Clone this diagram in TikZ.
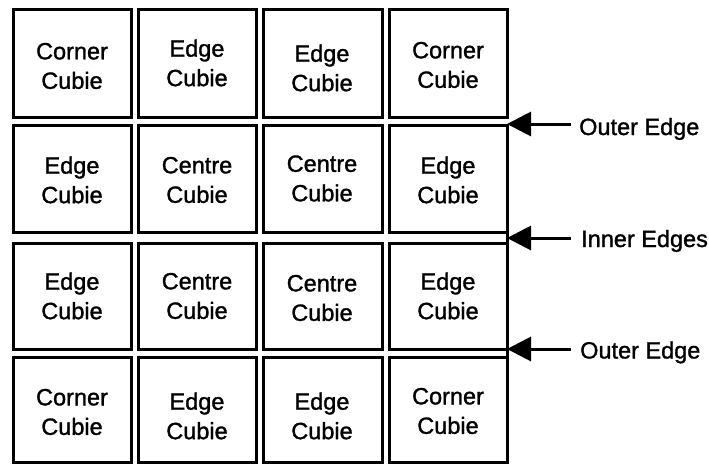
\documentclass[tikz,border=0pt]{standalone}
\usepackage{fontspec}
\setmainfont{Liberation Sans}
\newfontfamily\cubiefont{Liberation Sans}[FakeBold=1.3]
\usetikzlibrary{arrows.meta}
\begin{document}
\begin{tikzpicture}[x=1pt,y=-1pt,
  cubie/.style={draw=black,line width=3pt,minimum width=118pt,inner sep=0pt,outer sep=0pt},
  txt/.style={align=center,inner sep=0pt,font=\cubiefont\fontsize{23.5}{29.5}\selectfont},
  lbl/.style={anchor=base west,inner sep=0pt,font=\cubiefont\fontsize{23.5}{29.5}\selectfont},
  pointer/.style={line width=3pt,-{Triangle[length=24pt,width=24pt]}}]
\useasboundingbox (0,0) rectangle (709,464);
% row 1
\node[cubie,minimum height=108pt] (b11) at (72,63) {};
\node[cubie,minimum height=108pt] (b12) at (197,63) {};
\node[cubie,minimum height=108pt,minimum width=119pt] (b13) at (322.5,63) {};
\node[cubie,minimum height=108pt] (b14) at (448,63) {};
% row 2
\node[cubie,minimum height=107pt] (b21) at (72,178.5) {};
\node[cubie,minimum height=107pt] (b22) at (197,178.5) {};
\node[cubie,minimum height=107pt,minimum width=119pt] (b23) at (322.5,178.5) {};
\node[cubie,minimum height=107pt] (b24) at (448,178.5) {};
% row 3
\node[cubie,minimum height=106pt] (b31) at (72,296) {};
\node[cubie,minimum height=106pt] (b32) at (197,296) {};
\node[cubie,minimum height=106pt,minimum width=119pt] (b33) at (322.5,296) {};
\node[cubie,minimum height=106pt] (b34) at (448,296) {};
% row 4
\node[cubie,minimum height=105pt] (b41) at (72,409.5) {};
\node[cubie,minimum height=105pt] (b42) at (197,409.5) {};
\node[cubie,minimum height=105pt,minimum width=119pt] (b43) at (322.5,409.5) {};
\node[cubie,minimum height=105pt] (b44) at (448,409.5) {};
% texts
\node[txt] (t11) at (72,66) {Corner\\Cubie};
\node[txt] (t12) at (197,63) {Edge\\Cubie};
\node[txt] (t13) at (322,68) {Edge\\Cubie};
\node[txt] (t14) at (448,65) {Corner\\Cubie};
\node[txt] (t21) at (72,180) {Edge\\Cubie};
\node[txt] (t22) at (197,180) {Centre\\Cubie};
\node[txt] (t23) at (322,178.5) {Centre\\Cubie};
\node[txt] (t24) at (448,180) {Edge\\Cubie};
\node[txt] (t31) at (72,296) {Edge\\Cubie};
\node[txt] (t32) at (197,296) {Centre\\Cubie};
\node[txt] (t33) at (322,298) {Centre\\Cubie};
\node[txt] (t34) at (448,296) {Edge\\Cubie};
\node[txt] (t41) at (72,412) {Corner\\Cubie};
\node[txt] (t42) at (197,416) {Edge\\Cubie};
\node[txt] (t43) at (322,416) {Edge\\Cubie};
\node[txt] (t44) at (448,411) {Corner\\Cubie};
% right rail
\draw[line width=3pt] (b24.north east) -- (b44.north east);
% pointers
\coordinate (p1) at (507,124);
\coordinate (p2) at (507,238);
\coordinate (p3) at (507,349);
\coordinate (s1) at (571,124);
\coordinate (s2) at (571,238);
\coordinate (s3) at (571,349);
\draw[pointer] (s1) -- (p1);
\draw[pointer] (s2) -- (p2);
\draw[pointer] (s3) -- (p3);
\node[lbl] (l1) at (579,135) {Outer Edge};
\node[lbl] (l2) at (581,247) {Inner Edges};
\node[lbl] (l3) at (580,358.5) {Outer Edge};
\end{tikzpicture}
\end{document}
